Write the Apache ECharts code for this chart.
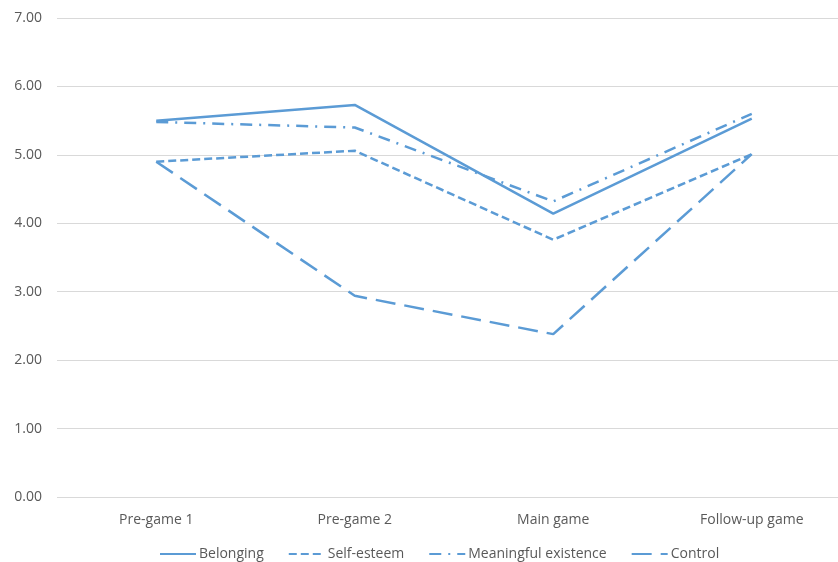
<!DOCTYPE html>
<html><head><meta charset="utf-8">
<script src="https://cdn.jsdelivr.net/npm/echarts@6/dist/echarts.min.js"></script>
<style>html,body{margin:0;padding:0;background:#fff;overflow:hidden;width:838px;height:562px}#c{width:860px;height:562px}</style>
</head><body><div id="c"></div>
<script>
var categories = ["Pre-game 1", "Pre-game 2", "Main game", "Follow-up game"];
var belonging = [5.50, 5.73, 4.14, 5.53];
var selfEsteem = [4.90, 5.06, 3.76, 5.01];
var meaningful = [5.48, 5.40, 4.32, 5.60];
var control = [4.90, 2.94, 2.38, 5.01];
var seriesNames = ["Belonging", "Self-esteem", "Meaningful existence", "Control"];

var color = "#5B9BD5";
var font = "Open Sans";
function mk(name, data, type) {
  return {
    name: name, type: "line", data: data, symbol: "none", showSymbol: false,
    lineStyle: { color: color, width: 2.5, type: type, cap: "butt" },
    itemStyle: { color: color }
  };
}
var chart = echarts.init(document.getElementById("c"));
chart.setOption({
  animation: false,
  grid: { left: 57, top: 18, width: 794, height: 479 },
  xAxis: {
    type: "category", data: categories, boundaryGap: true,
    axisLine: { show: false }, axisTick: { show: false },
    axisLabel: { color: "#595959", fontFamily: font, fontSize: 14, margin: 16 }
  },
  yAxis: {
    type: "value", min: 0, max: 7, interval: 1,
    axisLine: { show: false }, axisTick: { show: false },
    axisLabel: { color: "#595959", fontFamily: font, fontSize: 14, margin: 15,
      formatter: function (v) { return v.toFixed(2); } },
    splitLine: { lineStyle: { color: "#D9D9D9", width: 1 } }
  },
  legend: {
    top: 542, left: 154, itemWidth: 36, itemHeight: 14, itemGap: 24,
    itemStyle: { opacity: 0 },
    textStyle: { color: "#595959", fontFamily: font, fontSize: 14, padding: [0, 0, 0, -2] },
    data: seriesNames
  },
  series: [
    mk(seriesNames[0], belonging, "solid"),
    mk(seriesNames[1], selfEsteem, [8, 4]),
    mk(seriesNames[2], meaningful, [12, 7, 2, 7]),
    mk(seriesNames[3], control, [20, 9])
  ]
});
</script></body></html>
